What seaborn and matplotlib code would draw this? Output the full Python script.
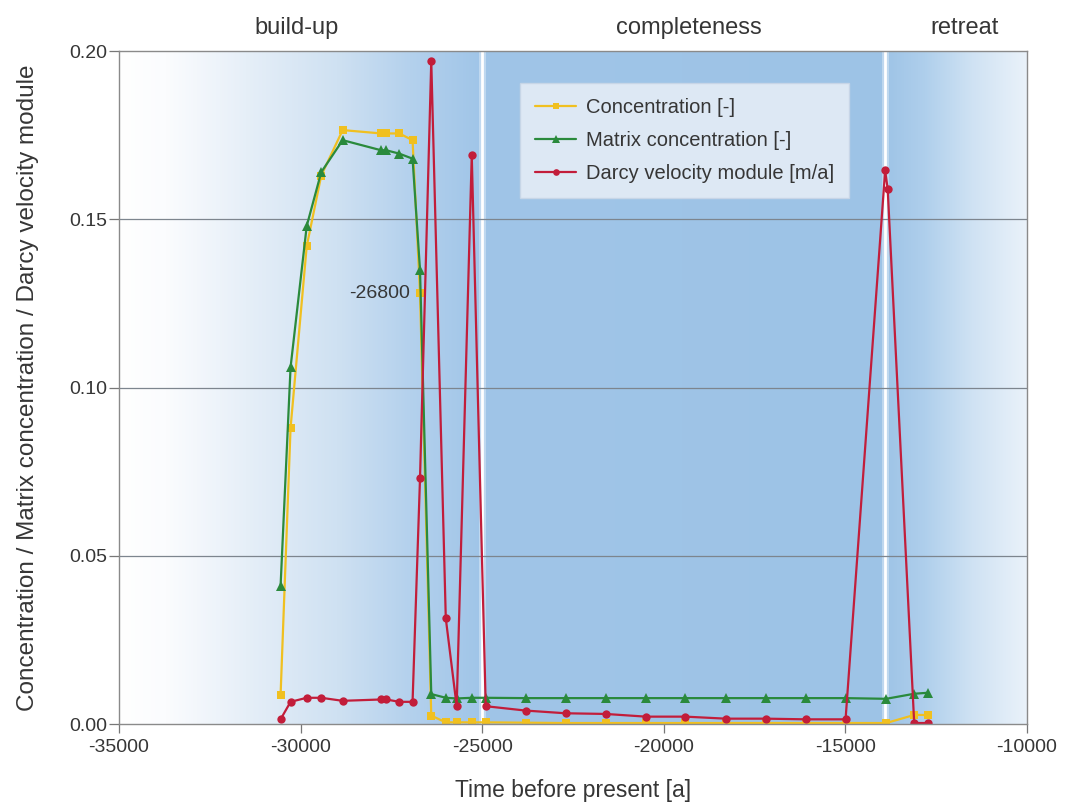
import numpy as np
import matplotlib
matplotlib.use("Agg")
import matplotlib.pyplot as plt
import matplotlib.colors as mcolors
import seaborn as sns

# ---------------- data ----------------
time = [-30550, -30275, -29830, -29430, -28840, -27780, -27640, -27280, -26915,
        -26710, -26400, -26000, -25700, -25285, -24900, -23800, -22700, -21600,
        -20490, -19400, -18290, -17190, -16090, -14990, -13870, -13100, -12720]
concentration = [0.0086, 0.088, 0.142, 0.163, 0.1765, 0.1755, 0.1755, 0.1755, 0.1735,
                 0.128, 0.0025, 0.0005, 0.0005, 0.0005, 0.0005, 0.0004, 0.0003, 0.0003,
                 0.0003, 0.0003, 0.0003, 0.0003, 0.0003, 0.0003, 0.0003, 0.0027, 0.0027]
matrix_conc = [0.041, 0.106, 0.148, 0.164, 0.1735, 0.1705, 0.1705, 0.1695, 0.168,
               0.135, 0.0089, 0.0078, 0.0076, 0.0078, 0.0078, 0.0077, 0.0077, 0.0077,
               0.0077, 0.0077, 0.0077, 0.0077, 0.0077, 0.0077, 0.0075, 0.0090, 0.0093]
darcy_time = [-30550, -30275, -29830, -29430, -28840, -27780, -27640, -27280, -26915,
              -26710, -26400, -26000, -25700, -25285, -24900, -23800, -22700, -21600,
              -20490, -19400, -18290, -17190, -16090, -14990, -13900, -13830, -13100, -12720]
darcy = [0.0014, 0.0066, 0.0078, 0.0078, 0.0069, 0.0073, 0.0073, 0.0066, 0.0066,
         0.073, 0.197, 0.0314, 0.0053, 0.169, 0.0053, 0.0040, 0.0032, 0.0030,
         0.0022, 0.0022, 0.0016, 0.0016, 0.0014, 0.0014, 0.1645, 0.159, 0.0003, 0.0003]

series_labels = ["Concentration [-]", "Matrix concentration [-]", "Darcy velocity module [m/a]"]
phase_labels = ["build-up", "completeness", "retreat"]
phase_label_x = [-30100, -19300, -11700]
phase_bounds = [-25000, -13900]
annot_text = "-26800"
x_ticks = [-35000, -30000, -25000, -20000, -15000, -10000]
y_ticks = [0.00, 0.05, 0.10, 0.15, 0.20]

# ---------------- style ----------------
sns.set_theme(style="white")
plt.rcParams["font.family"] = ["Liberation Sans", "DejaVu Sans"]
text_col = "#363636"

fig = plt.figure(figsize=(10.73, 8.07), dpi=100)
ax = fig.add_axes([0.1109, 0.1028, 0.846, 0.834])

# background gradient
stops_x = [-35000, -33700, -31500, -29000, -27000, -25050, -13950, -12800, -11500, -10000]
stops_c = ["#ffffff", "#fbfcfe", "#e6eff8", "#cfe1f2", "#b4d1ed", "#a0c5e8",
           "#9dc3e6", "#afcfec", "#cfe2f3", "#eaf2fa"]
xs = np.linspace(-35000, -10000, 1200)
rgb = np.array([mcolors.to_rgb(c) for c in stops_c])
img = np.stack([np.interp(xs, stops_x, rgb[:, k]) for k in range(3)], axis=-1)[None, :, :]
ax.imshow(img, extent=[-35000, -10000, 0, 0.2], aspect="auto", zorder=0, interpolation="bilinear")

for b in phase_bounds:
    ax.axvline(b, color="white", lw=5, alpha=0.35, zorder=1)
    ax.axvline(b, color="white", lw=2, zorder=1)

for yv in y_ticks[1:-1]:
    ax.axhline(yv, color="#7d858e", lw=0.9, zorder=1)

sns.lineplot(x=time, y=concentration, ax=ax, color="#f0c020", marker="s", markersize=6,
             markeredgewidth=0, linewidth=1.6, label=series_labels[0], zorder=3, sort=False)
sns.lineplot(x=time, y=matrix_conc, ax=ax, color="#2a8a3c", marker="^", markersize=7,
             markeredgewidth=0, linewidth=1.6, label=series_labels[1], zorder=4, sort=False)
sns.lineplot(x=darcy_time, y=darcy, ax=ax, color="#c21d3a", marker="o", markersize=6,
             markeredgewidth=0, linewidth=1.6, label=series_labels[2], zorder=5, sort=False)

ax.text(time[9] - 280, concentration[9], annot_text, ha="right", va="center",
        fontsize=14, color=text_col, zorder=6)

ax.set_xlim(-35000, -10000)
ax.set_ylim(0, 0.2)
ax.set_xticks(x_ticks)
ax.set_yticks(y_ticks)
ax.set_yticklabels([f"{v:.2f}" for v in y_ticks])
ax.set_xticklabels([str(v) for v in x_ticks])
ax.tick_params(axis="both", labelsize=14, colors=text_col, width=0.9,
               direction="out", bottom=True, left=True, color="#777777")
ax.tick_params(axis="x", length=6.5, pad=4.5)
ax.tick_params(axis="y", length=7, pad=1.5)
ax.set_xlabel("Time before present [a]", fontsize=16.5, color=text_col, labelpad=16)
ax.set_ylabel("Concentration / Matrix concentration / Darcy velocity module",
              fontsize=17.5, color=text_col, labelpad=22)
for s in ax.spines.values():
    s.set_color("#8a8a8a")
    s.set_linewidth(1.0)
    s.set_zorder(7)

for lab, xv in zip(phase_labels, phase_label_x):
    ax.text(xv, 1.034, lab, transform=ax.get_xaxis_transform(), ha="center",
            va="center", fontsize=17, color=text_col)

leg = ax.legend(loc="upper left", bbox_to_anchor=(0.431, 0.968), fontsize=14.5,
                frameon=True, fancybox=False, framealpha=0.85, borderpad=0.75,
                labelspacing=0.7, handlelength=2.0, handletextpad=0.5,
                markerscale=0.8)
leg.get_frame().set_facecolor("#e9eff7")
leg.get_frame().set_edgecolor("#c9d6e6")
for t in leg.get_texts():
    t.set_color(text_col)

fig.savefig("out.png", dpi=100)
